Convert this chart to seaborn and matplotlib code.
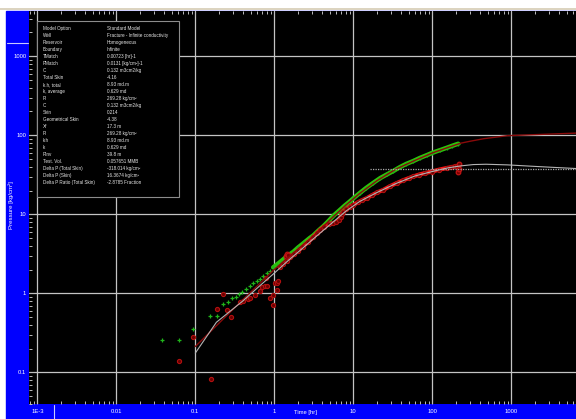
import matplotlib
matplotlib.use("Agg")
import matplotlib.pyplot as plt
import matplotlib.patches as mpatches
import matplotlib.lines as mlines
from matplotlib.ticker import FixedLocator, FixedFormatter, LogLocator, NullFormatter
import pandas as pd
import seaborn as sns

# ---- measured pressure change (green) ----
dp_time = [0.0377, 0.062, 0.093, 0.155, 0.19, 0.224, 0.26, 0.295, 0.325, 0.358,
           0.395, 0.435, 0.49, 0.54, 0.596, 0.656, 0.723, 0.80, 0.88, 0.968,
           1.07, 1.2, 1.35, 1.52, 1.74, 2.0, 2.4, 2.8, 3.12, 3.6,
           4.2, 4.9, 5.6, 6.6, 7.8, 9.0, 10.0, 12.0, 14.5, 17.9,
           22.0, 27.0, 32.0, 39.0, 47.0, 57.4, 70.0, 85.0, 100.0, 125.0,
           152.0, 180.0, 213.0]
dp_value = [0.257, 0.257, 0.354, 0.52, 0.52, 0.73, 0.78, 0.865, 0.89, 0.97,
            1.05, 1.13, 1.24, 1.34, 1.43, 1.53, 1.65, 1.79, 1.93, 2.13,
            2.30, 2.52, 2.78, 3.05, 3.35, 3.8, 4.4, 5.0, 5.4, 6.2,
            7.1, 8.3, 9.6, 11.1, 12.9, 14.5, 15.9, 18.5, 21.5, 25.0,
            28.8, 32.2, 35.2, 39.6, 43.5, 47.2, 51.8, 56.0, 60.0, 64.8,
            69.4, 73.8, 78.2]
dp_dense_from = 19   # index where the record becomes continuous

# ---- measured pressure derivative (red) ----
der_time = [0.062, 0.093, 0.156, 0.19, 0.224, 0.255, 0.287, 0.366, 0.40, 0.46,
            0.49, 0.565, 0.656, 0.69, 0.76, 0.78, 0.80, 0.88, 0.968, 0.968,
            1.03, 1.07, 1.07, 1.10,
            1.18, 1.30, 1.43, 1.60, 1.80, 2.0, 2.3, 2.7, 3.1, 3.5,
            3.78, 4.3, 4.9, 5.5, 6.0, 6.5, 6.9, 7.2, 7.5, 8.2,
            9.0, 10.0, 11.5, 13.0, 14.8, 17.0, 20.0, 24.0, 29.0, 35.4,
            43.0, 50.0, 57.4, 68.0, 80.0, 100.0, 120.0, 152.0, 175.0, 194.0,
            205.0]
der_value = [0.141, 0.278, 0.0835, 0.634, 0.99, 0.61, 0.50, 0.77, 0.80, 0.84,
             0.865, 0.95, 1.08, 1.21, 1.24, 1.55, 1.25, 0.88, 0.71, 0.95,
             1.34, 1.10, 1.34, 1.42,
             2.15, 2.35, 2.60, 2.85, 3.15, 3.45, 3.9, 4.5, 5.1, 5.8,
             6.3, 7.0, 7.5, 7.7, 7.95, 8.4, 9.3, 10.2, 10.8, 11.6,
             12.4, 13.1, 14.2, 15.1, 16.0, 17.3, 18.9, 20.4, 22.6, 24.8,
             27.0, 28.6, 30.1, 31.8, 33.2, 34.8, 36.6, 38.5, 39.5, 40.3,
             40.6]
der_dense_from = 24
der_extra_time = [1.40, 1.44, 1.48, 220.0, 210.0, 215.0]
der_extra_value = [3.0, 3.15, 3.08, 43.6, 34.8, 37.0]

# ---- model responses ----
model_time = [0.1, 0.2, 0.4, 0.7, 1.0, 1.5, 2.2, 3.2, 5.0, 8.0, 12.0, 20.0,
              35.0, 60.0, 100.0, 160.0, 230.0, 300.0, 450.0, 900.0, 2400.0, 6800.0]
model_dp = [0.212, 0.42, 0.83, 1.42, 2.0, 2.85, 3.95, 5.4, 8.4, 13.0, 18.3, 26.7,
            37.5, 48.0, 59.7, 70.5, 79.5, 84.0, 90.6, 98.9, 102.6, 106.7]
model_der_time = [0.1, 0.185, 0.4, 0.7, 1.0, 1.5, 2.2, 3.2, 5.0, 8.0, 12.0, 20.0,
                  35.0, 60.0, 100.0, 160.0, 230.0, 330.0, 480.0, 900.0, 1800.0,
                  3500.0, 6800.0]
model_der = [0.175, 0.43, 0.80, 1.32, 1.80, 2.6, 3.6, 5.0, 7.3, 10.9, 14.5, 18.9,
             24.6, 30.5, 34.8, 38.8, 41.0, 42.6, 43.0, 42.2, 40.6, 39.2, 37.9]
radial_time = [16.3, 6800.0]
radial_level = [37.4, 37.4]

# ---- axis labels ----
x_ticks = [1e-3, 1e-2, 1e-1, 1, 10, 100, 1000]
x_labels = ["1E-3", "0.01", "0.1", "1", "10", "100", "1000"]
y_ticks = [0.1, 1, 10, 100, 1000]
y_labels = ["0.1", "1", "10", "100", "1000"]

info_keys = ["Model Option", "Well", "Reservoir", "Boundary", "TMatch", "PMatch",
             "C", "Total Skin", "k.h, total", "k, average", "Pi", "C", "Skin",
             "Geometrical Skin", "Xf", "Pi", "k.h", "k", "Rinv", "Test. Vol.",
             "Delta P (Total Skin)", "Delta P (Skin)", "Delta P Ratio (Total Skin)"]
info_vals = ["Standard Model", "Fracture - Infinite conductivity", "Homogeneous",
             "Infinite", "0.00723 [hr]-1", "0.0131 [kg/cm²]-1", "0.132 m3cm2/kg",
             "-4.16", "8.93 md.m", "0.629 md", "269.28 kg/cm²", "0.132 m3cm2/kg",
             "0.214", "-4.38", "17.3 m", "269.28 kg/cm²", "8.93 md.m", "0.629 md",
             "39.8 m", "0.057651 MMB", "-318.014 kg/cm²", "16.3674 kg/cm²",
             "-2.8785 Fraction"]

sns.set_style("dark")
plt.rcParams["font.family"] = ["Liberation Sans Narrow", "Liberation Sans", "DejaVu Sans"]

W, H = 576, 419
fig = plt.figure(figsize=(W / 100, H / 100), dpi=100, facecolor="white")


def fx(px):
    return px / W


def fy(py):
    return 1 - py / H


# window chrome: blue frame, beige rule, panel separators
fig.patches.append(mpatches.Rectangle((fx(6), 0), fx(570), 1 - 11 / H,
                                      transform=fig.transFigure, color="#0000ff", zorder=-5))
fig.lines.append(mlines.Line2D([0, 1], [fy(9), fy(9)], transform=fig.transFigure,
                               color="#d6ccb4", lw=1.2, zorder=-4))
fig.lines.append(mlines.Line2D([fx(7), fx(28)], [fy(43), fy(43)], transform=fig.transFigure,
                               color="#c8c8ff", lw=0.8, zorder=-4))
fig.lines.append(mlines.Line2D([fx(54), fx(54)], [fy(405), 0], transform=fig.transFigure,
                               color="#c8c8ff", lw=0.8, zorder=-4))

ax = fig.add_axes([fx(29), 1 - 404 / H, fx(547), 393 / H])
ax.set_zorder(1)
ax.set_facecolor("black")
ax.set_xscale("log")
ax.set_yscale("log")

dp_df = pd.DataFrame({"t": dp_time, "p": dp_value})
der_df = pd.DataFrame({"t": der_time, "p": der_value})
der_x_df = pd.DataFrame({"t": der_extra_time, "p": der_extra_value})
dense_dp = dp_df.iloc[dp_dense_from:]
dense_der = der_df.iloc[der_dense_from:]

# measured pressure change
sns.lineplot(data=dense_dp, x="t", y="p", ax=ax, color="#2cc40c", lw=3.2,
             sort=False, estimator=None, zorder=3)
sns.scatterplot(data=dp_df, x="t", y="p", ax=ax, marker="+", color="#1fb41a",
                s=8, linewidth=0.9, zorder=3)

# measured derivative
sns.lineplot(data=dense_der, x="t", y="p", ax=ax, color="#f01414", lw=3.0,
             sort=False, estimator=None, zorder=4)
sns.scatterplot(data=der_df, x="t", y="p", ax=ax, marker="o", facecolor="#6a0000",
                edgecolor="#b01010", s=9, linewidth=0.8, zorder=4)
sns.scatterplot(data=der_x_df, x="t", y="p", ax=ax, marker="o", facecolor="#7a0000",
                edgecolor="#c01414", s=11, linewidth=0.9, zorder=4)

# model curves
sns.lineplot(x=model_time, y=model_dp, ax=ax, color="#8a0a0a", lw=1.0,
             sort=False, estimator=None, zorder=5)
sns.lineplot(x=model_der_time, y=model_der, ax=ax, color="#b4b4b4", lw=0.8,
             sort=False, estimator=None, zorder=5)
sns.lineplot(x=radial_time, y=radial_level, ax=ax, color="#a8a8a8", lw=0.9,
             linestyle=(0, (1, 1)), sort=False, estimator=None, zorder=5)

ax.set_xlim(10 ** -3.105, 10 ** 3.819)
ax.set_ylim(10 ** -1.401, 10 ** 3.573)

ax.xaxis.set_major_locator(FixedLocator(x_ticks))
ax.xaxis.set_major_formatter(FixedFormatter(x_labels))
ax.yaxis.set_major_locator(FixedLocator(y_ticks))
ax.yaxis.set_major_formatter(FixedFormatter(y_labels))
ax.xaxis.set_minor_locator(LogLocator(base=10, subs=range(2, 10), numticks=20))
ax.yaxis.set_minor_locator(LogLocator(base=10, subs=range(2, 10), numticks=20))
ax.xaxis.set_minor_formatter(NullFormatter())
ax.yaxis.set_minor_formatter(NullFormatter())

ax.grid(True, which="major", color="#c4c4c4", lw=0.9)
ax.grid(False, which="minor")
ax.tick_params(which="both", direction="in", color="#bdbdbd", width=0.7,
               top=True, bottom=True, left=True, right=False)
ax.tick_params(which="major", length=3.5)
ax.tick_params(which="minor", length=2.2)
ax.tick_params(axis="x", which="major", labelsize=4.2, labelcolor="white", pad=3.5)
ax.tick_params(axis="y", which="major", labelsize=4.2, labelcolor="white", pad=2)
for s in ax.spines.values():
    s.set_visible(False)
ax.set_xlabel("")
ax.set_ylabel("")

fig.text(fx(305), fy(415), "Time [hr]", color="white", fontsize=4.2,
         ha="center", va="bottom")
fig.text(fx(11.5), fy(205), "Pressure [kg/cm²]", color="white", fontsize=4.4,
         rotation=90, ha="center", va="center")

# parameter box
box = mpatches.Rectangle((fx(37), fy(197)), fx(142), (197 - 21) / H,
                         transform=fig.transFigure, facecolor="black",
                         edgecolor="#8c8c8c", lw=0.8, zorder=10)
fig.patches.append(box)
for i, (k, v) in enumerate(zip(info_keys, info_vals)):
    y = 28.3 + i * 7.0
    fig.text(fx(43), fy(y), k, color="#e6e6e6", fontsize=3.3, ha="left", va="center", zorder=11)
    fig.text(fx(107), fy(y), v, color="#e6e6e6", fontsize=3.3, ha="left", va="center", zorder=11)

fig.savefig("out.png", dpi=100, facecolor="white")
